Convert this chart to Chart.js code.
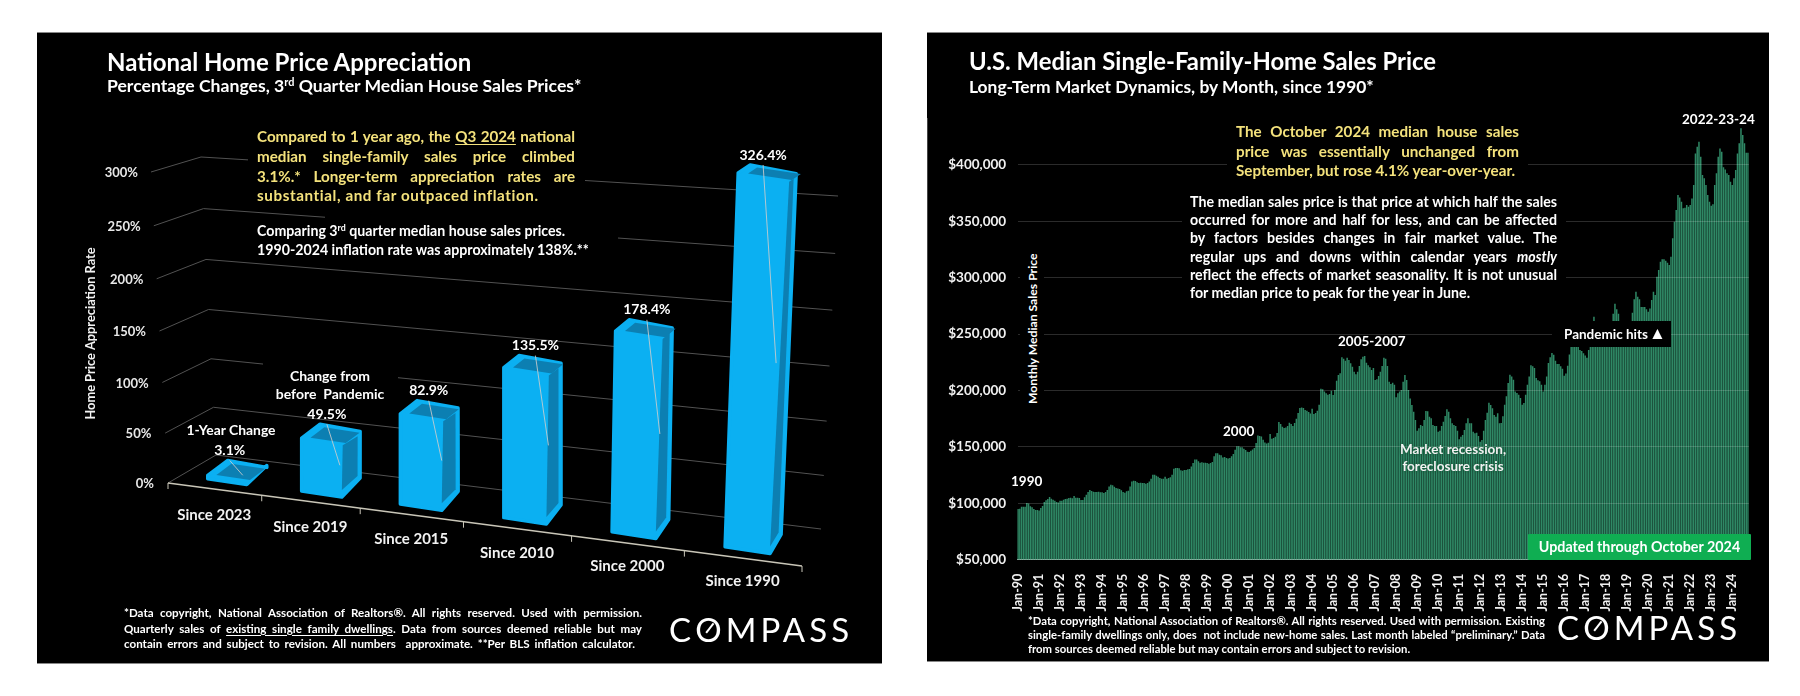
<!DOCTYPE html>
<html><head><meta charset="utf-8">
<script src="https://cdn.jsdelivr.net/npm/chart.js@4"></script>
<style>
html,body{margin:0;padding:0;background:#fff;width:1800px;height:696px;overflow:hidden;font-family:Lato,sans-serif}
.panel{position:absolute;background:#000;border-top:1px solid #888;border-bottom:1px solid #888;box-sizing:border-box}
canvas{position:absolute}
.t{position:absolute;color:#fff;font-weight:700;white-space:nowrap}
.b{position:absolute;background:#000}
.j{position:absolute;font-weight:700;color:#fff}
.j div{text-align:justify;text-align-last:justify}
.j div.l{text-align-last:left}
.y{color:#f4e27c}
u{text-underline-offset:2px}
sup{font-size:.62em;line-height:0;vertical-align:.55em}
.logo{position:absolute;color:#fff;font-weight:400;font-size:33px;letter-spacing:4.1px;line-height:1;white-space:nowrap}
.logo span{position:relative;display:inline-block}
.logo i{position:absolute;left:9px;top:14px;width:12px;height:2.4px;background:#fff;transform:rotate(-52deg)}
</style></head><body>
<div class="panel" style="left:37px;top:32px;width:845px;height:632px"></div>
<div class="panel" style="left:927px;top:32px;width:842px;height:630px"></div>
<canvas id="c1" width="845" height="632" style="left:37px;top:32px;width:845px;height:632px"></canvas>
<canvas id="c2" width="842" height="630" style="left:927px;top:32px;width:842px;height:630px"></canvas>

<!-- left panel text -->
<div class="t" style="left:107px;top:47px;font-size:24px;line-height:30px">National Home Price Appreciation</div>
<div class="t" style="left:107px;top:75px;font-size:17.6px;line-height:22px">Percentage Changes, 3<sup>rd</sup> Quarter Median House Sales Prices*</div>
<div class="b" style="left:248px;top:124px;width:337px;height:84px"></div>
<div class="j y" style="left:257px;top:127px;width:318px;font-size:15.2px;line-height:19.8px">
<div>Compared to 1 year ago, the <u>Q3 2024</u> national</div>
<div>median single-family sales price climbed</div>
<div>3.1%.* Longer-term appreciation rates are</div>
<div class="l" style="letter-spacing:.6px">substantial, and far outpaced inflation.</div></div>
<div class="b" style="left:325px;top:214px;width:293px;height:48px"></div>
<div class="t" style="left:257px;top:221px;font-size:14.2px;line-height:19px">Comparing 3<sup>rd</sup> quarter median house sales prices.<br>1990-2024 inflation rate was approximately 138%.**</div>
<div class="t" style="left:231px;top:421px;font-size:13.9px;line-height:18px;transform:translateX(-50%)">1-Year Change</div>
<div class="b" style="left:263px;top:362px;width:135px;height:42px"></div>
<div class="t" style="left:330px;top:367px;font-size:14px;line-height:18px;text-align:center;transform:translateX(-50%)">Change from<br>before&nbsp; Pandemic</div>
<div class="j" style="left:124px;top:605px;width:518px;font-size:11.6px;line-height:15.5px">
<div>*Data copyright, National Association of Realtors®. All rights reserved. Used with permission.</div>
<div>Quarterly sales of <u>existing single family dwellings</u>. Data from sources deemed reliable but may</div>
<div style="width:511px">contain errors and subject to revision. All numbers&nbsp; approximate. **Per BLS inflation calculator.</div></div>
<div class="logo" style="left:669px;top:613px">C<span>O<i></i></span>MPASS</div>

<!-- right panel text -->
<div class="t" style="left:969px;top:46px;font-size:23.85px;line-height:30px">U.S. Median Single-Family-Home Sales Price</div>
<div class="t" style="left:969px;top:76px;font-size:17.4px;line-height:22px">Long-Term Market Dynamics, by Month, since 1990*</div>
<div class="b" style="left:1227px;top:120px;width:301px;height:62px"></div>
<div class="j y" style="left:1236px;top:122px;width:283px;font-size:15.2px;line-height:19.6px">
<div>The October 2024 median house sales</div>
<div>price was essentially unchanged from</div>
<div class="l">September, but rose 4.1% year-over-year.</div></div>
<div class="b" style="left:1182px;top:190px;width:384px;height:115px"></div>
<div class="j" style="left:1190px;top:193px;width:367px;font-size:14.2px;line-height:18.2px">
<div>The median sales price is that price at which half the sales</div>
<div>occurred for more and half for less, and can be affected</div>
<div>by factors besides changes in fair market value. The</div>
<div>regular ups and downs within calendar years <i>mostly</i></div>
<div>reflect the effects of market seasonality. It is not unusual</div>
<div class="l">for median price to peak for the year in June.</div></div>
<div class="b" style="left:1020px;top:250px;width:24px;height:160px"></div>
<div class="t" style="left:1026px;top:256px;height:148px;writing-mode:vertical-rl;transform:rotate(180deg);font-size:12.2px;line-height:14px;text-align:center">Monthly Median Sales Price</div>
<div class="b" style="left:1011px;top:468px;width:30px;height:26px"></div>
<div class="t" style="left:1011px;top:472px;font-size:13.5px;line-height:18px">1990</div>
<div class="t" style="left:1223px;top:422px;font-size:13.5px;line-height:18px">2000</div>
<div class="t" style="left:1338px;top:332px;font-size:13.5px;line-height:18px">2005-2007</div>
<div class="t" style="left:1682px;top:110px;font-size:13.5px;line-height:18px">2022-23-24</div>
<div class="b" style="left:1552px;top:321px;width:119px;height:26px"></div>
<div class="t" style="left:1564px;top:325px;font-size:13.5px;line-height:18px">Pandemic hits<span style="font-size:17px;line-height:0;margin-left:1px">▲</span></div>
<div class="t" style="left:1453px;top:441px;font-size:13.5px;line-height:17px;text-align:center;transform:translateX(-50%);text-shadow:0 0 3px #153;color:#f2f2f2">Market recession,<br>foreclosure crisis</div>
<div class="b" style="left:1528px;top:534px;width:223px;height:26px;background:#0fae52;border-radius:1px"></div>
<div class="t" style="left:1528px;top:534px;width:223px;height:26px;font-size:14.3px;line-height:26px;text-align:center">Updated through October 2024</div>
<div class="j" style="left:1028px;top:614px;width:517px;font-size:11.3px;line-height:14px">
<div>*Data copyright, National Association of Realtors®. All rights reserved. Used with permission. Existing</div>
<div>single-family dwellings only, does&nbsp; not include new-home sales. Last month labeled “preliminary.” Data</div>
<div class="l">from sources deemed reliable but may contain errors and subject to revision.</div></div>
<div class="logo" style="left:1557px;top:611px">C<span>O<i></i></span>MPASS</div>

<script>
// ---- National Home Price Appreciation ----
const appreciationCategories = ['Since 2023','Since 2019','Since 2015','Since 2010','Since 2000','Since 1990'];
const appreciationValues = [3.1,49.5,82.9,135.5,178.4,326.4];
const appreciationTicks = [0,50,100,150,200,250,300];

// ---- U.S. median single-family sales price, by month ----
const y1990=[94900,95200,97000,97000,97000,100200,99900,97300,96400,94900,94000,94000];
const y1991=[93700,95800,97600,101100,102600,103800,105600,104000,103200,102300,101100,100800];
const y1992=[102300,102300,103200,103800,104100,104700,105000,104400,106400,105000,105000,104700];
const y1993=[102900,102900,105300,107600,110000,111800,110900,110300,110000,110000,110300,109700];
const y1994=[109700,109100,110000,111800,115000,116500,115900,114700,113500,113200,112600,111500];
const y1995=[110000,109400,110600,111200,115000,119400,120000,119700,118600,118000,118300,118000];
const y1996=[118000,117400,118000,119400,121800,125400,125400,124500,123600,122400,121800,121800];
const y1997=[123600,121800,122400,123000,125400,130700,131300,131300,131000,129200,128900,129500];
const y1998=[129500,130100,130400,132700,135700,138900,138900,137200,136000,136300,136000,136000];
const y1999=[135700,135100,135700,136600,141600,144300,144300,143100,142500,140700,141000,140100];
const y2000=[139800,140100,141600,143700,147500,150500,150500,149600,149600,148400,147200,145700];
const y2001=[145400,146600,147800,149000,153400,160200,159600,159300,156400,154000,153100,153700];
const y2002=[161400,157300,157900,159000,162300,172000,170300,167900,166700,167300,168500,171500];
const y2003=[170300,168500,171200,175000,180000,184500,185000,184500,182700,182100,180900,179700];
const y2004=[183900,179100,180000,182100,187400,201600,201000,199200,197500,196300,196900,199800];
const y2005=[196000,200400,208700,213700,215200,229400,228200,226400,229100,227000,224100,221100];
const y2006=[216700,214300,216700,221700,227600,230000,230600,224700,222300,220500,218200,220000];
const y2007=[209300,209900,212900,216700,221700,229100,228200,221700,207800,205700,206900,205200];
const y2008=[194000,197500,199000,200400,207800,213700,209300,200400,193000,187100,181200,173800];
const y2009=[164400,166500,169400,168500,173800,181800,181500,176800,175300,169400,168500,168500];
const y2010=[163500,164400,168500,172400,177400,183300,181200,175300,170900,169400,168500,164400];
const y2011=[156700,159100,160500,165000,170900,175300,170900,170900,163500,162000,162600,159700];
const y2012=[154600,156100,164400,173800,180300,189200,187100,184200,178300,176800,179800,170900];
const y2013=[171200,177100,187400,194800,206600,214000,212500,209600,199200,197700,196300,193300];
const y2014=[187400,188900,196300,205100,212500,222300,221400,219900,211000,209000,208100,205100];
const y2015=[199200,205100,212500,224300,229400,233200,231700,226400,223500,223500,221400,219300];
const y2016=[213000,215000,222000,232000,240000,249000,246000,245000,239000,236000,235000,233000];
const y2017=[231000,229000,236000,245000,253000,265400,258000,255000,247000,247000,247000,249000];
const y2018=[242000,243000,250000,258000,268000,277000,272000,268000,258000,257000,256000,254000];
const y2019=[249000,249000,259000,269000,280800,287600,283000,281000,274000,274000,274000,272000];
const y2020=[269900,272800,280200,287600,284600,300900,306800,314200,316300,316300,315100,313300];
const y2021=[311200,318600,334900,349600,360000,373300,371200,367400,361500,362100,364400,363000];
const y2022=[364400,370300,382200,410200,416100,420600,407300,391000,388100,382200,373300,367400];
const y2023=[363800,365000,382200,392500,407300,414600,411700,397800,396000,392500,391000,385100];
const y2024=[382200,388100,395500,410200,419100,432400,426500,419100,410800,410800];
const medianPriceYears = [y1990,y1991,y1992,y1993,y1994,y1995,y1996,y1997,y1998,y1999,y2000,y2001,y2002,y2003,y2004,y2005,y2006,y2007,y2008,y2009,y2010,y2011,y2012,y2013,y2014,y2015,y2016,y2017,y2018,y2019,y2020,y2021,y2022,y2023,y2024];
const monthNames = ['Jan','Feb','Mar','Apr','May','Jun','Jul','Aug','Sep','Oct','Nov','Dec'];
const firstYear = 1990;
const priceTicks = [50000,100000,150000,200000,250000,300000,350000,400000];

const medianPrice = [].concat(...medianPriceYears);
const monthLabels = [];
medianPriceYears.forEach((yr,i)=>yr.forEach((_,m)=>{
  monthLabels.push(monthNames[m]+'-'+String((firstYear+i)%100).padStart(2,'0'));
}));

Chart.defaults.font.family = 'Lato';
Chart.defaults.font.weight = 'bold';
Chart.defaults.color = '#f2f2f2';
Chart.defaults.animation = false;
Chart.defaults.devicePixelRatio = 1;
Chart.defaults.responsive = false;

const BRIGHT='#0bb0f2', DARK='#0c7fb2';
function warpX(area,x){return x-2.14e-4*(x-area.left)*(area.right-x);}
function bump(v){return 3.5*v*(300-v)/22500;}

const perspective = {
  id:'perspective',
  beforeDraw(chart){
    const area=chart.chartArea, sy=chart.scales.y, sx=chart.scales.x;
    if(!sy._shifted){
      sy._shifted=true;
      const orig=sy.drawTitle;
      sy.drawTitle=function(){const c=this.ctx;c.save();c.translate(0,5);orig.call(this);c.restore();};
    }
    sy.getLabelItems().forEach((it,i)=>{
      if(it._w) return; it._w=true;
      const v=sy.ticks[i].value;
      it.options.translation=[117-v*16/300,sy.getPixelForValue(v)+bump(v)];
    });
    sx.getLabelItems().forEach((it,i)=>{
      if(it._w) return; it._w=true;
      const x=warpX(area,sx.getPixelForTick(i));
      it.textOffset=0;
      it.options.textBaseline='middle';
      it.options.translation=[x,483+.1245*(x-177)];
    });
  },
  beforeDatasetsDraw(chart){
    const {ctx,chartArea:area,scales:{x:sx,y:sy}}=chart;
    ctx.save();
    ctx.lineWidth=1; ctx.strokeStyle='#525252';
    sy.ticks.forEach(t=>{
      const v=t.value, py=sy.getPixelForValue(v)+bump(v)-1;
      ctx.beginPath();
      ctx.moveTo(131-v*.0567,py);
      ctx.lineTo(179-v*.05,py-28+.0433*v);
      ctx.lineTo(784+v*.0567,py+46-.0733*v);
      ctx.stroke();
    });
    // floor axis
    const y0=sy.getPixelForValue(0)-1, slope=(534-451)/(area.right-area.left);
    ctx.strokeStyle='#c9c6b8'; ctx.lineWidth=1.4;
    ctx.beginPath(); ctx.moveTo(area.left,y0); ctx.lineTo(area.right,y0+slope*(area.right-area.left)); ctx.stroke();
    ctx.lineWidth=1;
    const n=appreciationCategories.length, band=(area.right-area.left)/n;
    for(let i=0;i<=n;i++){
      const x=warpX(area,area.left+i*band), y=y0+slope*(x-area.left);
      ctx.beginPath(); ctx.moveTo(x,y); ctx.lineTo(x,y+6); ctx.stroke();
    }
    ctx.restore();
  },
  beforeDatasetDraw(chart,args){
    const {ctx,chartArea:area}=chart;
    const meta=args.meta, data=chart.data.datasets[args.index].data, n=meta.data.length;
    const band=(area.right-area.left)/n;
    ctx.save();
    meta.data.forEach((el,i)=>{
      const v=data[i], t=(el.x-area.left-band/2)/(area.right-area.left-band);
      const xc=warpX(area,el.x), w=39+6*t, dx=20-9*t;
      const x0=xc+13-8*t-w/2;
      const yb=480+.1315*(x0-424);
      const h=(el.base-el.y)*(1.05+.095*t)/1.0367;
      const lean=Math.max(0,t-.6)*.0875*h, wTop=w+.016*h;
      const s=.15, yt=yb-h, topDy=-15+.0215*v, botDy=-19;
      const FBL=[x0,yb],FBR=[x0+w,yb+s*w],FTL=[x0+lean,yt],FTR=[x0+lean+wTop,yt+s*wTop];
      const BTL=[FTL[0]+20-8*t,yt+topDy],BTR=[FTR[0]+20-13*t,FTR[1]+topDy+1],BBR=[FBR[0]+dx,FBR[1]+botDy];
      const poly=(pts,c,stroke)=>{
        ctx.beginPath(); pts.forEach((p,k)=>k?ctx.lineTo(p[0],p[1]):ctx.moveTo(p[0],p[1])); ctx.closePath();
        ctx.fillStyle=c; ctx.fill();
        if(stroke){ctx.strokeStyle=c;ctx.lineWidth=stroke;ctx.lineJoin='round';ctx.stroke();}
      };
      poly([FBL,FTL,BTL,BTR,BBR,FBR],BRIGHT,3.5);
      const P=(a,b)=>[FTL[0]+a*(FTR[0]-FTL[0])+b*(BTL[0]-FTL[0]),FTL[1]+a*(FTR[1]-FTL[1])+b*(BTL[1]-FTL[1])];
      poly([P(.17,.1),P(.17,.85),P(1.03,.85),P(1.03,.1)],DARK);
      if(h>15) poly([[FTR[0],FTR[1]+1],[BTR[0]-2.5,BTR[1]+5],[BBR[0]-2.5,BBR[1]-2],[FBR[0],FBR[1]-7]],DARK);
      const lx=x0+22+16*t, ly=BTL[1];
      ctx.strokeStyle='rgba(205,205,205,.85)'; ctx.lineWidth=1;
      ctx.beginPath(); ctx.moveTo(lx,ly); ctx.lineTo(lx+13,ly+13+.567*v); ctx.stroke();
      ctx.fillStyle='#fff'; ctx.font='bold 14px Lato'; ctx.textAlign='center'; ctx.textBaseline='middle';
      ctx.fillText(v.toFixed(1)+'%',lx,ly-10);
    });
    ctx.restore();
    return false;
  }
};

new Chart(document.getElementById('c1'),{
  type:'bar',
  plugins:[perspective],
  data:{labels:appreciationCategories,datasets:[{data:appreciationValues,backgroundColor:BRIGHT}]},
  options:{
    layout:{padding:{top:141,right:80,bottom:0,left:0}},
    plugins:{legend:{display:false},tooltip:{enabled:false}},
    scales:{
      x:{grid:{display:false},border:{display:false},
         afterFit(s){s.height=180;},
         ticks:{font:{size:15,weight:'bold'},color:'#f2f2f2',maxRotation:0,autoSkip:false}},
      y:{min:0,max:300,
         afterBuildTicks(s){s.ticks=appreciationTicks.map(value=>({value}));},
         afterFit(s){s.width=131;},
         grid:{display:false},border:{display:false},
         title:{display:true,text:'Home Price Appreciation Rate',font:{size:12.8,weight:'bold'},color:'#f2f2f2',padding:{top:46,bottom:0}},
         ticks:{font:{size:13,weight:'bold'},color:'#e8e8e8',callback:v=>v+'%'}}
    }
  }
});

new Chart(document.getElementById('c2'),{
  type:'bar',
  data:{labels:monthLabels,datasets:[{data:medianPrice,backgroundColor:'#2f8865',barPercentage:1,categoryPercentage:.86}]},
  options:{
    layout:{padding:{top:86,right:19.3,bottom:0,left:0}},
    plugins:{legend:{display:false},tooltip:{enabled:false}},
    scales:{
      x:{grid:{display:false},border:{display:true,color:'#b8b8b8',width:1},
         afterFit(s){s.height=102.3;},
         ticks:{autoSkip:false,minRotation:90,maxRotation:90,padding:6,font:{size:12.5,weight:'bold'},color:'#f0f0f0',
           callback(v){const l=this.getLabelForValue(v);return l.startsWith('Jan')?l:'';}}},
      y:{min:50000,max:441570,
         afterBuildTicks(s){s.ticks=priceTicks.map(value=>({value}));},
         afterFit(s){s.width=90.2;},
         grid:{color:'rgba(255,255,255,.17)',z:1,drawTicks:false,lineWidth:1},
         border:{display:true,color:'#8a8a8a',width:1},
         ticks:{padding:11,font:{size:13.5,weight:'bold'},color:'#f0f0f0',
           callback:v=>'$'+Number(v).toLocaleString('en-US')}}
    }
  }
});
</script>
</body></html>
